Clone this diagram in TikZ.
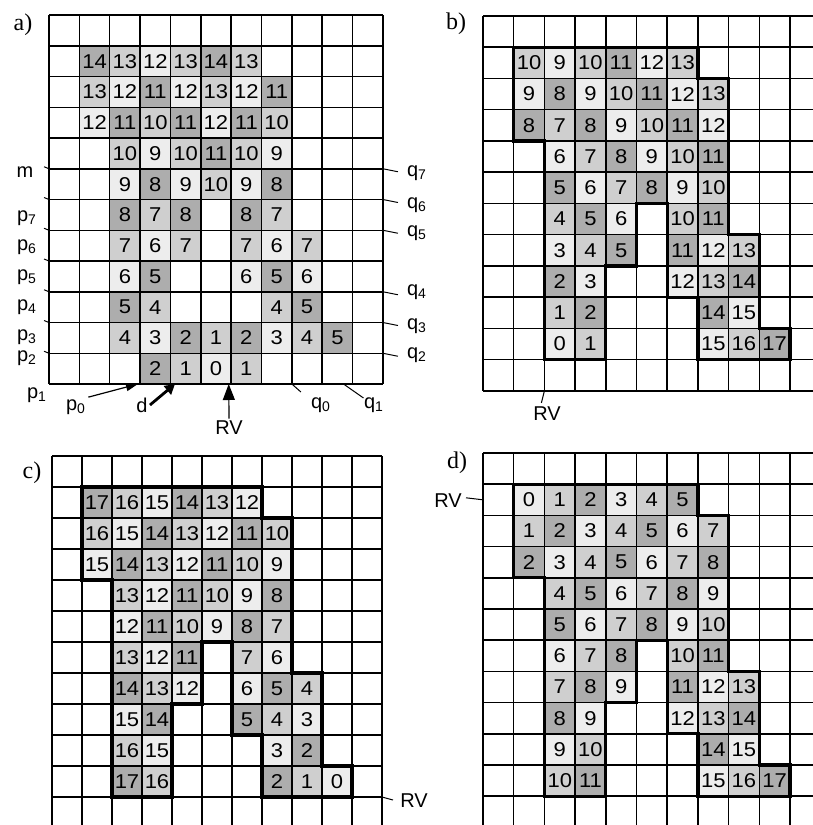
\documentclass[tikz,border=0pt]{standalone}
\usepackage{fontspec}
\setmainfont{Liberation Serif}
\setsansfont{Liberation Sans}
\newfontfamily\numfont{Liberation Sans}[FakeStretch=1.1]
\usetikzlibrary{arrows.meta}

\definecolor{lvl0}{gray}{0.93}
\definecolor{lvl1}{gray}{0.81}
\definecolor{lvl2}{gray}{0.68}

% one row of a wave map: #1 map, #2 row, #3 first column, #4 values (-1 = free cell)
\newcommand{\waverow}[4]{%
  \foreach \val [count=\col from #3] in {#4} {%
    \ifnum\val<0 \else
      \pgfmathtruncatemacro{\lvl}{mod(\val,3)}%
      \fill[lvl\lvl] (\col-1,#2-1) rectangle (\col,#2);
      \node[num] (#1-\col-#2) at (\col-0.5,#2-0.5) {\val};
    \fi}}

% 11 x 12 cells
\newcommand{\wavegrid}{%
  \foreach \i in {0,...,11} \draw[gridline] (\i,0) -- (\i,12);
  \foreach \j in {0,...,12} \draw[gridline] (0,\j) -- (11,\j);}

% border of the reached cells (maps b-d)
\newcommand{\waveoutline}{%
  \draw[outline] (1,1) -| (7,2) -| (8,7) -| (9,10) -| (10,11) -| (7,9)
    -| (6,6) -| (5,8) -| (4,11) -| (2,4) -- (1,4) -- cycle;}

\begin{document}
\begin{tikzpicture}[x=0.5pt, y=-0.5pt,
    num/.style={font=\numfont\fontsize{10}{10}\selectfont, inner sep=0pt},
    lbl/.style={font=\sffamily\fontsize{10}{12}\selectfont, inner sep=1pt},
    tag/.style={font=\rmfamily\fontsize{12}{14}\selectfont, inner sep=0pt},
    gridline/.style={line width=0.75pt},
    outline/.style={line width=1.6pt, line join=miter},
    tick/.style={line width=0.5pt},
    arr/.style={line width=0.6pt, -{Triangle[length=6pt, width=4pt]}},
  ]
  \path[use as bounding box] (0,0) rectangle (813,825);
  \clip (0,0) rectangle (813,825);

  % Map a
  \begin{scope}[shift={(49,15)}, x=15.18pt, y=-15.375pt]
    \waverow{a}{2}{2}{14,13,12,13,14,13}
    \waverow{a}{3}{2}{13,12,11,12,13,12,11}
    \waverow{a}{4}{2}{12,11,10,11,12,11,10}
    \waverow{a}{5}{3}{10,9,10,11,10,9}
    \waverow{a}{6}{3}{9,8,9,10,9,8}
    \waverow{a}{7}{3}{8,7,8,-1,8,7}
    \waverow{a}{8}{3}{7,6,7,-1,7,6,7}
    \waverow{a}{9}{3}{6,5,-1,-1,6,5,6}
    \waverow{a}{10}{3}{5,4,-1,-1,-1,4,5}
    \waverow{a}{11}{3}{4,3,2,1,2,3,4,5}
    \waverow{a}{12}{4}{2,1,0,1}
    \wavegrid
    \coordinate (a-m)  at (0,5);
    \coordinate (a-p7) at (0,6);
    \coordinate (a-p6) at (0,7);
    \coordinate (a-p5) at (0,8);
    \coordinate (a-p4) at (0,9);
    \coordinate (a-p3) at (0,10);
    \coordinate (a-p2) at (0,11);
    \coordinate (a-q7) at (11,5);
    \coordinate (a-q6) at (11,6);
    \coordinate (a-q5) at (11,7);
    \coordinate (a-q4) at (11,9);
    \coordinate (a-q3) at (11,10);
    \coordinate (a-q2) at (11,11);
    \coordinate (a-q0) at (8,12);
    \coordinate (a-q1) at (9.7,12);
    \coordinate (a-p0) at (2.93,12);
    \coordinate (a-d)  at (4.15,12);
    \coordinate (a-rv) at (5.92,12);
  \end{scope}

  % Map b
  \begin{scope}[shift={(483,16)}, x=15.35pt, y=-15.62pt]
    \waverow{b}{2}{2}{10,9,10,11,12,13}
    \waverow{b}{3}{2}{9,8,9,10,11,12,13}
    \waverow{b}{4}{2}{8,7,8,9,10,11,12}
    \waverow{b}{5}{3}{6,7,8,9,10,11}
    \waverow{b}{6}{3}{5,6,7,8,9,10}
    \waverow{b}{7}{3}{4,5,6,-1,10,11}
    \waverow{b}{8}{3}{3,4,5,-1,11,12,13}
    \waverow{b}{9}{3}{2,3,-1,-1,12,13,14}
    \waverow{b}{10}{3}{1,2,-1,-1,-1,14,15}
    \waverow{b}{11}{3}{0,1,-1,-1,-1,15,16,17}
    \wavegrid
    \waveoutline
    \coordinate (b-rv) at (2,12);
  \end{scope}

  % Map c
  \begin{scope}[shift={(52,456)}, x=15pt, y=-15.5pt]
    \waverow{c}{2}{2}{17,16,15,14,13,12}
    \waverow{c}{3}{2}{16,15,14,13,12,11,10}
    \waverow{c}{4}{2}{15,14,13,12,11,10,9}
    \waverow{c}{5}{3}{13,12,11,10,9,8}
    \waverow{c}{6}{3}{12,11,10,9,8,7}
    \waverow{c}{7}{3}{13,12,11,-1,7,6}
    \waverow{c}{8}{3}{14,13,12,-1,6,5,4}
    \waverow{c}{9}{3}{15,14,-1,-1,5,4,3}
    \waverow{c}{10}{3}{16,15,-1,-1,-1,3,2}
    \waverow{c}{11}{3}{17,16,-1,-1,-1,2,1,0}
    \wavegrid
    \waveoutline
    \coordinate (c-rv) at (11,11);
  \end{scope}

  % Map d
  \begin{scope}[shift={(483,453)}, x=15.35pt, y=-15.6pt]
    \waverow{d}{2}{2}{0,1,2,3,4,5}
    \waverow{d}{3}{2}{1,2,3,4,5,6,7}
    \waverow{d}{4}{2}{2,3,4,5,6,7,8}
    \waverow{d}{5}{3}{4,5,6,7,8,9}
    \waverow{d}{6}{3}{5,6,7,8,9,10}
    \waverow{d}{7}{3}{6,7,8,-1,10,11}
    \waverow{d}{8}{3}{7,8,9,-1,11,12,13}
    \waverow{d}{9}{3}{8,9,-1,-1,12,13,14}
    \waverow{d}{10}{3}{9,10,-1,-1,-1,14,15}
    \waverow{d}{11}{3}{10,11,-1,-1,-1,15,16,17}
    \wavegrid
    \waveoutline
    \coordinate (d-rv) at (0,1.5);
  \end{scope}

  % Panel tags
  \node[tag] (taga) at (23,25)  {a)};
  \node[tag] (tagb) at (456,24) {b)};
  \node[tag] (tagc) at (32,473) {c)};
  \node[tag] (tagd) at (457,463) {d)};

  % Labels of map a -- left side
  \node[lbl] (m)  at (25,172) {m};
  \node[lbl] (p7) at (27,218) {p\textsubscript{7}};
  \node[lbl] (p6) at (27,247) {p\textsubscript{6}};
  \node[lbl] (p5) at (27,277) {p\textsubscript{5}};
  \node[lbl] (p4) at (27,307) {p\textsubscript{4}};
  \node[lbl] (p3) at (27,337) {p\textsubscript{3}};
  \node[lbl] (p2) at (27,358) {p\textsubscript{2}};
  \node[lbl] (p1) at (37,395) {p\textsubscript{1}};
  \foreach \n in {m,p7,p6,p5,p4,p3,p2}
    \draw[tick] (a-\n) -- ++(-5,-2);

  % right side
  \node[lbl] (q7) at (417,173) {q\textsubscript{7}};
  \node[lbl] (q6) at (417,205) {q\textsubscript{6}};
  \node[lbl] (q5) at (417,233) {q\textsubscript{5}};
  \node[lbl] (q4) at (417,292) {q\textsubscript{4}};
  \node[lbl] (q3) at (417,326) {q\textsubscript{3}};
  \node[lbl] (q2) at (417,355) {q\textsubscript{2}};
  \foreach \n in {q7,q6,q5,q4,q3,q2}
    \draw[tick] (a-\n) -- ++(15,3);

  % bottom
  \node[lbl] (q0)  at (321,405) {q\textsubscript{0}};
  \node[lbl] (q1)  at (374,405) {q\textsubscript{1}};
  \node[lbl] (p0)  at (76,407)  {p\textsubscript{0}};
  \node[lbl] (d)   at (142,405) {d};
  \node[lbl] (rva) at (229,428) {RV};
  \draw[tick] (a-q0) -- ++(9,8);
  \draw[tick] (a-q1) -- ++(20,14);
  \draw[arr] (p0.north east) -- (a-p0);
  \draw[arr, line width=1.4pt, -{Triangle[length=5pt, width=5.5pt]}] (d.east) -- (a-d);
  \draw[arr, -{Triangle[length=8pt, width=6pt]}] (rva.north) -- (a-rv);

  % Start cells of maps b-d
  \node[lbl] (rvb) at (547,414) {RV};
  \node[lbl] (rvc) at (414,801) {RV};
  \node[lbl] (rvd) at (448,501) {RV};
  \draw[tick] (b-rv) -- ++(-3,12);
  \draw[tick] (c-rv) -- ++(11,3);
  \draw[tick] (d-rv) -- ++(-17,-2);
\end{tikzpicture}
\end{document}
